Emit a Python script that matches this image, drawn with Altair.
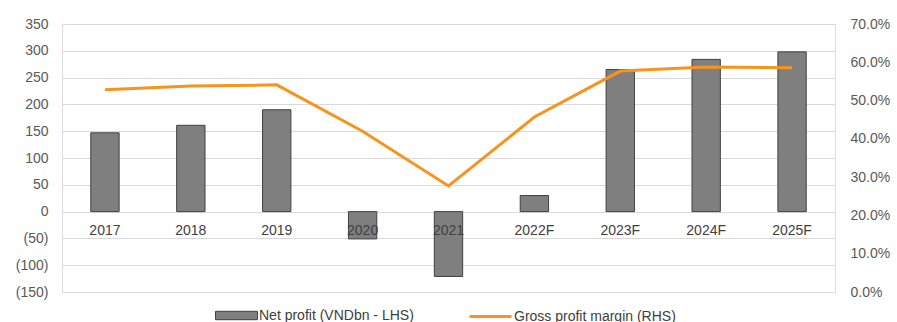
import altair as alt
import pandas as pd

years = ["2017", "2018", "2019", "2020", "2021", "2022F", "2023F", "2024F", "2025F"]
net_profit = [147, 161, 190, -51, -121, 30, 265, 284, 298]
gross_margin = [0.528, 0.538, 0.541, 0.420, 0.277, 0.457, 0.577, 0.588, 0.586]

df = pd.DataFrame({
    "year": years,
    "np": net_profit,
    "gm": gross_margin,
    "s1": "Net profit (VNDbn - LHS)",
    "s2": "Gross profit margin (RHS)",
})

FONT = "Liberation Sans"
x = alt.X("year:N", sort=years, axis=None,
          scale=alt.Scale(paddingInner=0.67, paddingOuter=0.335))
yleft = alt.Y("np:Q", scale=alt.Scale(domain=[-150, 350], nice=False, zero=False),
              axis=alt.Axis(values=list(range(-150, 351, 50)), title=None,
                            domain=False, ticks=False, labelPadding=14,
                            labelFontSize=14, labelFont=FONT, labelColor="#595959",
                            gridColor="#d9d9d9", gridWidth=1.2,
                            labelExpr="datum.value < 0 ? '(' + abs(datum.value) + ')' : datum.value"))

bars = alt.Chart(df).mark_bar(stroke="#404040", strokeWidth=1).encode(
    x=x,
    y=yleft,
    fill=alt.Fill("s1:N", scale=alt.Scale(range=["#7f7f80"]),
                  legend=alt.Legend(title=None, orient="none", legendX=153, legendY=270,
                                    symbolType="M-1,-0.2L1,-0.2L1,0.2L-1,0.2Z", symbolSize=1764,
                                    symbolStrokeColor="#404040", symbolStrokeWidth=1,
                                    labelFontSize=14, labelFont=FONT, labelColor="#404040",
                                    labelLimit=400, padding=0, labelOffset=1)),
)

labels = alt.Chart(df).transform_calculate(np="0").mark_text(
    fontSize=14, font=FONT, color="#404040", dy=19, baseline="middle").encode(
    x=x,
    y=yleft,
    text="year:N",
)

left = alt.layer(bars, labels)

line = alt.Chart(df).mark_line(strokeWidth=3).encode(
    x=x,
    y=alt.Y("gm:Q", scale=alt.Scale(domain=[0, 0.7], nice=False),
            axis=alt.Axis(orient="right", values=[0, 0.1, 0.2, 0.3, 0.4, 0.5, 0.6, 0.7],
                          format=".1%", title=None, grid=False, domain=False, ticks=False,
                          labelPadding=15, labelFontSize=14, labelFont=FONT,
                          labelColor="#595959")),
    stroke=alt.Stroke("s2:N", scale=alt.Scale(range=["#f7941d"]),
                      legend=alt.Legend(title=None, orient="none", legendX=406, legendY=270,
                                        symbolType="stroke", symbolSize=1764, symbolStrokeWidth=3,
                                        symbolStrokeColor="#f7941d",
                                        labelFontSize=14, labelFont=FONT, labelColor="#404040",
                                        labelLimit=400, padding=0, labelOffset=1)),
)

chart = alt.layer(left, line).resolve_scale(y="independent").properties(
    width=773, height=268,
    autosize=alt.AutoSizeParams(type="none"),
    padding={"left": 62, "top": 24, "right": 62, "bottom": 30},
).configure_view(stroke=None).configure(background="white")

chart.save("out.html", embed_options={"renderer": "svg", "actions": False})
